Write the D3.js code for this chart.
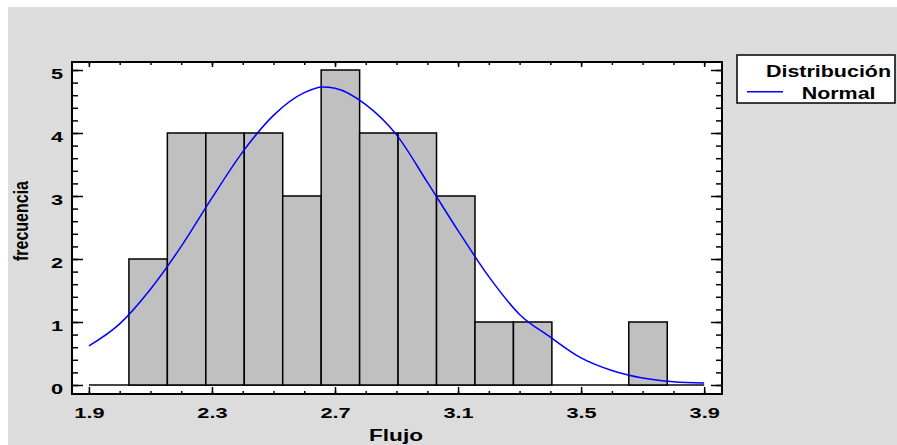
<!DOCTYPE html>
<html>
<head>
<meta charset="utf-8">
<script src="https://cdn.jsdelivr.net/npm/d3@7"></script>
<style>
  html, body { margin: 0; padding: 0; background: #ffffff; }
  svg { display: block; }
  text { font-family: "Liberation Sans", Arial, sans-serif; font-weight: bold; fill: #000; }
</style>
</head>
<body>
<svg id="chart" width="897" height="445"></svg>
<script>
// ---- data ----
const binEdges = [2.03, 2.155, 2.28, 2.405, 2.53, 2.655, 2.78, 2.905, 3.03, 3.155, 3.28, 3.405, 3.53, 3.655, 3.78];
const binCounts = [2, 4, 4, 4, 3, 5, 4, 4, 3, 1, 1, 0, 0, 1];
const curveX = [1.9, 2.0, 2.1, 2.2, 2.3, 2.4, 2.5, 2.6, 2.66, 2.7, 2.8, 2.9, 3.0, 3.1, 3.2, 3.3, 3.4, 3.5, 3.6, 3.7, 3.8, 3.9];
const curveY = [0.62, 0.97, 1.52, 2.2, 2.97, 3.7, 4.28, 4.64, 4.73, 4.71, 4.45, 3.97, 3.22, 2.45, 1.72, 1.12, 0.76, 0.43, 0.23, 0.11, 0.05, 0.03];
const xMajorTicks = [1.9, 2.3, 2.7, 3.1, 3.5, 3.9];
const xTickLabels = ["1.9", "2.3", "2.7", "3.1", "3.5", "3.9"];
const yMajorTicks = [0, 1, 2, 3, 4, 5];
const yTickLabels = ["0", "1", "2", "3", "4", "5"];
const xMinorTicks = d3.range(19, 40).map(v => v / 10);
const yMinorTicks = d3.range(0, 26).map(v => v / 5);
const xTitle = "Flujo";
const yTitle = "frecuencia";
const legendTitle = "Distribución";
const legendItem = "Normal";

// ---- layout ----
const svg = d3.select("#chart");
const plot = { left: 72, right: 722, top: 62, bottom: 394 };

svg.append("rect").attr("x", 8).attr("y", 7).attr("width", 889).attr("height", 438).attr("fill", "#dcdcdc");
svg.append("rect").attr("x", plot.left).attr("y", plot.top)
   .attr("width", plot.right - plot.left).attr("height", plot.bottom - plot.top).attr("fill", "#ffffff");

const x = d3.scaleLinear().domain([1.845, 3.958]).range([plot.left, plot.right]);
const y = d3.scaleLinear().domain([-0.143, 5.127]).range([plot.bottom, plot.top]);

// baseline at zero
svg.append("line")
   .attr("x1", x(1.9)).attr("x2", x(3.9)).attr("y1", y(0)).attr("y2", y(0))
   .attr("stroke", "#454545").attr("stroke-width", 2);

// bars
const bins = binCounts.map((c, i) => ({ x0: binEdges[i], x1: binEdges[i + 1], c }));
svg.append("g").selectAll("rect").data(bins.filter(d => d.c > 0)).join("rect")
   .attr("x", d => x(d.x0)).attr("width", d => x(d.x1) - x(d.x0))
   .attr("y", d => y(d.c)).attr("height", d => y(0) - y(d.c))
   .attr("fill", "#c0c0c0").attr("stroke", "#000").attr("stroke-width", 1.5);

// normal curve
const line = d3.line().x((d, i) => x(curveX[i])).y(d => y(d)).curve(d3.curveMonotoneX);
svg.append("path").datum(curveY).attr("d", line)
   .attr("fill", "none").attr("stroke", "#0000ff").attr("stroke-width", 1.5);

// axes
function styleAxis(g) {
  g.select(".domain").remove();
  g.selectAll(".tick line").attr("stroke", "#000").attr("stroke-width", 1.5);
}
// bottom minor + major
svg.append("g").attr("transform", `translate(0,${plot.bottom})`)
   .call(d3.axisBottom(x).tickValues(xMinorTicks).tickSize(-3).tickFormat(""))
   .call(styleAxis);
const xb = svg.append("g").attr("transform", `translate(0,${plot.bottom})`)
   .call(d3.axisBottom(x).tickValues(xMajorTicks).tickSize(-7).tickFormat((d, i) => xTickLabels[i]))
   .call(styleAxis);
xb.selectAll(".tick text").attr("y", 23.7).attr("dy", 0)
   .attr("font-size", 15).attr("font-family", "Liberation Sans, Arial").attr("font-weight", "bold")
   .attr("transform", "scale(1.45,1)");
// top
svg.append("g").attr("transform", `translate(0,${plot.top})`)
   .call(d3.axisTop(x).tickValues(xMinorTicks).tickSize(-3).tickFormat(""))
   .call(styleAxis);
svg.append("g").attr("transform", `translate(0,${plot.top})`)
   .call(d3.axisTop(x).tickValues(xMajorTicks).tickSize(-5).tickFormat(""))
   .call(styleAxis);
// left
svg.append("g").attr("transform", `translate(${plot.left},0)`)
   .call(d3.axisLeft(y).tickValues(yMinorTicks).tickSize(-6).tickFormat(""))
   .call(styleAxis);
const yl = svg.append("g").attr("transform", `translate(${plot.left},0)`)
   .call(d3.axisLeft(y).tickValues(yMajorTicks).tickSize(-11).tickFormat((d, i) => yTickLabels[i]))
   .call(styleAxis);
yl.selectAll(".tick text").attr("x", -9 / 1.45).attr("dy", 0).attr("y", 8.3)
   .attr("text-anchor", "end")
   .attr("font-size", 15).attr("font-family", "Liberation Sans, Arial").attr("font-weight", "bold")
   .attr("transform", "scale(1.45,1)");
// right
svg.append("g").attr("transform", `translate(${plot.right},0)`)
   .call(d3.axisRight(y).tickValues(yMinorTicks).tickSize(-6).tickFormat(""))
   .call(styleAxis);
svg.append("g").attr("transform", `translate(${plot.right},0)`)
   .call(d3.axisRight(y).tickValues(yMajorTicks).tickSize(-11).tickFormat(""))
   .call(styleAxis);

// plot border
svg.append("rect").attr("x", plot.left).attr("y", plot.top)
   .attr("width", plot.right - plot.left).attr("height", plot.bottom - plot.top)
   .attr("fill", "none").attr("stroke", "#000").attr("stroke-width", 2);

// titles
svg.append("text").attr("transform", `translate(${(plot.left + plot.right) / 2 - 1},441) scale(1.33,1)`)
   .attr("text-anchor", "middle").attr("font-size", 17).text(xTitle);
svg.append("text").attr("transform", `translate(27.5,221) scale(1.28,1) rotate(-90)`)
   .attr("text-anchor", "middle").attr("font-size", 16).text(yTitle);

// legend
svg.append("rect").attr("x", 737).attr("y", 55).attr("width", 158).attr("height", 48)
   .attr("fill", "#fff").attr("stroke", "#000").attr("stroke-width", 1.5);
svg.append("text").attr("transform", "translate(828.5,77.3) scale(1.3,1)")
   .attr("text-anchor", "middle").attr("font-size", 16.5).text(legendTitle);
svg.append("line").attr("x1", 747).attr("x2", 783).attr("y1", 91.7).attr("y2", 91.7)
   .attr("stroke", "#0000ff").attr("stroke-width", 1.5);
svg.append("text").attr("transform", "translate(801.7,99) scale(1.3,1)")
   .attr("text-anchor", "start").attr("font-size", 16.5).text(legendItem);
</script>
</body>
</html>
